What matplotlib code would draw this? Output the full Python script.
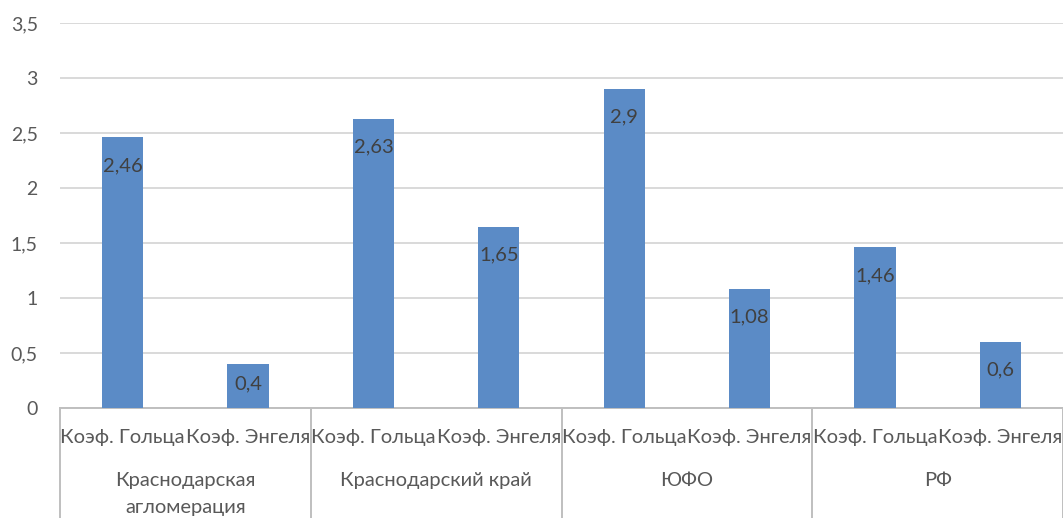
import matplotlib
matplotlib.use("Agg")
import matplotlib.pyplot as plt
from matplotlib.lines import Line2D
import matplotlib.transforms as mtransforms

groups = ["Краснодарская\nагломерация", "Краснодарский край", "ЮФО", "РФ"]
subcats = ["Коэф. Гольца", "Коэф. Энгеля"]
values = [2.46, 0.4, 2.63, 1.65, 2.9, 1.08, 1.46, 0.6]
yticks = [0, 0.5, 1, 1.5, 2, 2.5, 3, 3.5]

plt.rcParams['font.family'] = ['Lato', 'DejaVu Sans']

W, H = 1063, 518
fig = plt.figure(figsize=(W / 100, H / 100), dpi=100)
ax = fig.add_axes([60 / W, 110 / H, 1 - 60 / W, (408 - 23) / H])

bar_color = "#5B8BC6"
n = len(values)
x = list(range(n))
bars = ax.bar(x, values, width=0.33, color=bar_color, zorder=3)
ax.set_xlim(-0.5, n - 0.5)
ax.set_ylim(0, 3.5)

def fmt(v):
    s = f"{v:g}"
    return s.replace(".", ",")

fs = 14.5
for xi, v in zip(x, values):
    hpx = v * 110
    off = min(28, hpx / 2 - 2)
    ax.annotate(fmt(v), (xi, v), xytext=(0, -off * 0.72), textcoords="offset points",
                ha="center", va="center", fontsize=fs, color="#404040", zorder=4)

ax.set_yticks(yticks)
ax.set_yticklabels([fmt(t) for t in yticks], fontsize=14, color="#595959")
ax.tick_params(axis="y", length=0, pad=16)
ax.set_xticks([])
ax.grid(axis="y", color="#D9D9D9", linewidth=1.4, zorder=0)
for s in ["top", "right", "left"]:
    ax.spines[s].set_visible(False)
ax.spines["bottom"].set_color("#BFBFBF")
ax.spines["bottom"].set_linewidth(1.4)

trans = mtransforms.blended_transform_factory(ax.transData, fig.transFigure)
# sub-category labels
for xi in x:
    ax.text(xi, 1 - 437 / H, subcats[xi % 2], transform=trans, ha="center", va="center",
            fontsize=fs, color="#595959")
# group labels
for gi, g in enumerate(groups):
    cx = gi * 2 + 0.5
    ax.text(cx, 1 - 472 / H, g, transform=trans, ha="center", va="top",
            fontsize=fs, color="#595959", linespacing=1.75)
# separators
for gi in range(len(groups) + 1):
    sx = gi * 2 - 0.5
    ln = Line2D([sx, sx], [1 - 408 / H, 0], transform=trans, color="#BFBFBF",
                linewidth=1.4, clip_on=False)
    fig.add_artist(ln)

fig.savefig("out.png", dpi=100)
